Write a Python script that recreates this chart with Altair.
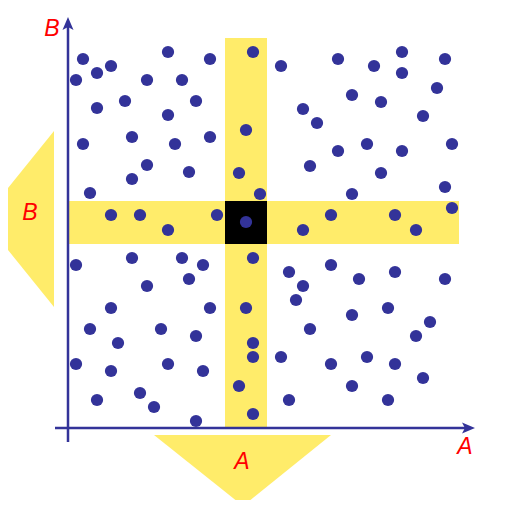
import altair as alt
import pandas as pd

# scatter points (A, B)
pt_a = [15, 29, 43, 8, 100, 142, 79, 114, 29, 57, 128, 100, 15, 64, 107, 142, 79, 64, 121, 22,
        185, 178, 171, 192,
        43, 72, 100, 149, 178,
        213, 270, 306, 334, 334, 377, 284, 313, 369, 235, 249, 355, 270, 299, 334, 384, 242, 313, 377, 284,
        263, 327, 235, 348, 384,
        8, 64, 114, 135, 121, 79, 43, 142, 22, 93, 128, 50, 8, 43, 100, 135, 29, 72, 86, 128,
        185, 178, 185, 185, 171, 185,
        221, 263, 235, 228, 291, 327, 377, 284, 320, 362, 348, 242, 213, 263, 299, 327, 355, 284, 221, 320]
pt_b = [369, 355, 362, 348, 376, 369, 348, 348, 320, 327, 327, 313, 284, 291, 284, 291, 263, 249, 256, 235,
        376, 298, 255, 234,
        213, 213, 198, 213, 206,
        362, 369, 362, 376, 355, 369, 333, 326, 340, 319, 305, 312, 277, 284, 277, 284, 262, 255, 241, 234,
        213, 213, 198, 198, 220,
        163, 170, 170, 163, 149, 142, 120, 120, 99, 99, 92, 85, 64, 57, 64, 57, 28, 35, 21, 7,
        170, 120, 85, 71, 42, 14,
        156, 163, 142, 128, 149, 156, 149, 113, 120, 106, 92, 99, 71, 64, 71, 64, 50, 42, 28, 28]

# highlighted bands
band_a1 = [157, 1, 157]
band_a2 = [199, 391, 199]
band_b1 = [0, 184, 184]
band_b2 = [390, 227, 227]
band_fill = ["#FFEC6A", "#FFEC6A", "#000000"]

# big arrows
arrow_a_x = [86, 175, 263]
arrow_a_y2 = [-7, -78, -7]
arrow_b_y = [297, 209, 121]
arrow_b_x = [-14, -85, -14]

# axes
axis_h = dict(a=-13, a2=402, b=0)
axis_v = dict(a=0, b=-14, b2=405)

labels = ["B", "A", "B", "A"]
label_a = [-16, 397, -38, 174]
label_b = [399, -19, 215, -34]

BLUE = "#333399"
YEL = "#FFEC6A"

xs = alt.Scale(domain=[-60, 434], nice=False, zero=False)
ys = alt.Scale(domain=[-72, 420], nice=False, zero=False)

def X(f, **k):
    return alt.X(f, scale=xs, axis=None, **k)

def Y(f, **k):
    return alt.Y(f, scale=ys, axis=None, **k)

bands = alt.Chart(pd.DataFrame({"a": band_a1, "a2": band_a2, "b": band_b1, "b2": band_b2, "c": band_fill})).mark_rect().encode(
    x=X("a:Q"), x2="a2:Q", y=Y("b:Q"), y2="b2:Q", color=alt.Color("c:N", scale=None)
)

arrA = alt.Chart(pd.DataFrame({"a": arrow_a_x, "b2": arrow_a_y2, "b": [-7, -7, -7]})).mark_area(color=YEL).encode(
    x=X("a:Q"), y=Y("b:Q"), y2="b2:Q"
)
arrB = alt.Chart(pd.DataFrame({"b": arrow_b_y, "a": arrow_b_x, "a2": [-14, -14, -14]})).mark_area(color=YEL, orient="horizontal").encode(
    y=Y("b:Q"), x=X("a:Q"), x2="a2:Q"
)

ax_h = alt.Chart(pd.DataFrame([axis_h])).mark_rule(color=BLUE, strokeWidth=2.5).encode(
    x=X("a:Q"), x2="a2:Q", y=Y("b:Q")
)
ax_v = alt.Chart(pd.DataFrame([axis_v])).mark_rule(color=BLUE, strokeWidth=2.5).encode(
    x=X("a:Q"), y=Y("b:Q"), y2="b2:Q"
)
head_r = alt.Chart(pd.DataFrame({"a": [400.5], "b": [0]})).mark_point(
    shape="M1,0L-1,-0.85L-0.55,0L-1,0.85Z", filled=True, color=BLUE, opacity=1, size=169
).encode(x=X("a:Q"), y=Y("b:Q"))
head_u = alt.Chart(pd.DataFrame({"a": [0], "b": [404.5]})).mark_point(
    shape="M0,-1L-0.85,1L0,0.55L0.85,1Z", filled=True, color=BLUE, opacity=1, size=169
).encode(x=X("a:Q"), y=Y("b:Q"))

pts = alt.Chart(pd.DataFrame({"a": pt_a, "b": pt_b})).mark_circle(color=BLUE, opacity=1, size=150).encode(
    x=X("a:Q"), y=Y("b:Q")
)

txt = alt.Chart(pd.DataFrame({"t": labels, "a": label_a, "b": label_b})).mark_text(
    color="#FF0000", fontSize=23, fontStyle="italic", font="Liberation Sans", align="center", baseline="middle"
).encode(x=X("a:Q"), y=Y("b:Q"), text="t:N")

chart = alt.layer(bands, arrA, arrB, ax_h, ax_v, head_r, head_u, pts, txt).properties(
    width=494, height=492, padding=0, autosize=alt.AutoSizeParams(type="none")
).configure_view(strokeWidth=0)

chart.save("out.html", embed_options={"renderer": "svg", "actions": False})
